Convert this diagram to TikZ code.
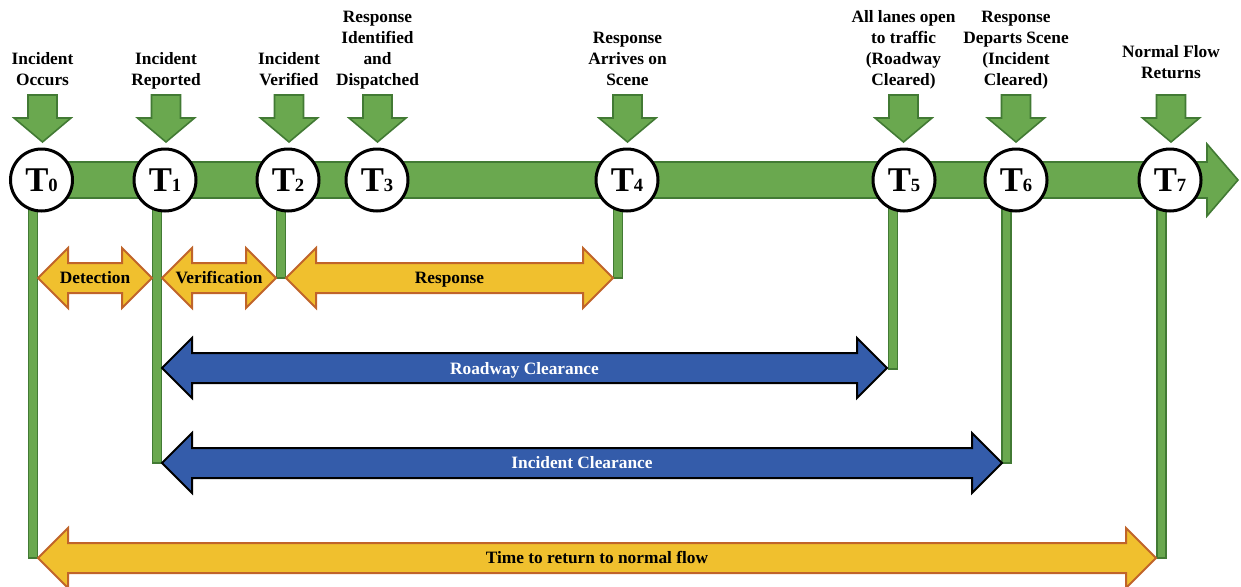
\documentclass[tikz,border=0pt]{standalone}
\usepackage{fontspec}
\setmainfont{Liberation Serif}

\definecolor{flowgreen}{RGB}{106,168,79}
\definecolor{flowgreendk}{RGB}{66,122,52}
\definecolor{phasegold}{RGB}{240,192,46}
\definecolor{phaseedge}{RGB}{192,100,42}
\definecolor{clearblue}{RGB}{52,92,170}

% block arrow with two heads: style, left tip, right tip, y
\newcommand{\dblarrow}[4]{%
  \filldraw[#1] (#2,#4) -- (#2+30,#4-30) -- (#2+30,#4-15) -- (#3-30,#4-15)
    -- (#3-30,#4-30) -- (#3,#4) -- (#3-30,#4+30) -- (#3-30,#4+15)
    -- (#2+30,#4+15) -- (#2+30,#4+30) -- cycle;}
% green marker arrow above a time point
\newcommand{\markarrow}[1]{%
  \filldraw[markarr] (#1-14.5,95) -- (#1+14.5,95) -- (#1+14.5,118) -- (#1+28.5,118)
    -- (#1,142) -- (#1-28.5,118) -- (#1-14.5,118) -- cycle;}
\newcommand{\tlab}[1]{{\fontsize{26}{26}\selectfont T}{\fontsize{14}{14}\selectfont #1}}

\begin{document}
\begin{tikzpicture}[x=0.75pt, y=-0.75pt,
  font=\fontsize{13}{15.75}\selectfont\bfseries,
  tcirc/.style={circle, draw=black, line width=2.25pt, fill=white,
    minimum size=46.5pt, inner sep=0pt},
  evlabel/.style={anchor=south, align=center, inner sep=0pt, text depth=0pt},
  phlabel/.style={inner sep=0pt, text height=8.6pt, text depth=0pt},
  phase/.style={fill=phasegold, draw=phaseedge, line width=1.5pt},
  clear/.style={fill=clearblue, draw=black, line width=1.5pt},
  markarr/.style={fill=flowgreen, draw=flowgreendk, line width=1.2pt},
  tbar/.style={fill=flowgreen, draw=flowgreendk, line width=1pt}]

  \useasboundingbox (0,0) rectangle (1241,586);

  % --- time line ---
  \filldraw[markarr] (41,162) -- (1207,162) -- (1207,144) -- (1238,180)
    -- (1207,216) -- (1207,198) -- (41,198) -- cycle;

  % --- drop lines from the time points ---
  \filldraw[tbar] (28.5,205) rectangle (37.5,558);
  \filldraw[tbar] (152.5,205) rectangle (161.5,463);
  \filldraw[tbar] (276.5,205) rectangle (285.5,278);
  \filldraw[tbar] (613.5,205) rectangle (622.5,278);
  \filldraw[tbar] (888.5,205) rectangle (897.5,369);
  \filldraw[tbar] (1002,205) rectangle (1011,463);
  \filldraw[tbar] (1157,205) rectangle (1166,558);

  % --- time points ---
  \node[tcirc] (T0) at (41.5,180) {\tlab{0}};
  \node[tcirc] (T1) at (165,180) {\tlab{1}};
  \node[tcirc] (T2) at (288,180) {\tlab{2}};
  \node[tcirc] (T3) at (377,180) {\tlab{3}};
  \node[tcirc] (T4) at (627,180) {\tlab{4}};
  \node[tcirc] (T5) at (904,180) {\tlab{5}};
  \node[tcirc] (T6) at (1016,180) {\tlab{6}};
  \node[tcirc] (T7) at (1170,180) {\tlab{7}};

  % --- events ---
  \markarrow{42.5}  \markarrow{166}  \markarrow{289}  \markarrow{377.5}
  \markarrow{627.5} \markarrow{903.5} \markarrow{1016} \markarrow{1171}
  \node[evlabel] (occurs) at (42.5,86) {Incident\\Occurs};
  \node[evlabel] (reported) at (166,86) {Incident\\Reported};
  \node[evlabel] (verified) at (289,86) {Incident\\Verified};
  \node[evlabel] (dispatched) at (377.5,86) {Response\\Identified\\and\\Dispatched};
  \node[evlabel] (arrives) at (627.5,86) {Response\\Arrives on\\Scene};
  \node[evlabel] (lanesopen) at (903.5,86) {All lanes open\\to traffic\\(Roadway\\Cleared)};
  \node[evlabel] (departs) at (1016,86) {Response\\Departs Scene\\(Incident\\Cleared)};
  \node[evlabel] (normal) at (1171,79) {Normal Flow\\Returns};

  % --- phases ---
  \dblarrow{phase}{38}{152}{278}
  \dblarrow{phase}{162}{276}{278}
  \dblarrow{phase}{286}{613}{278}
  \node[phlabel] (detection) at (95,278) {Detection};
  \node[phlabel] (verification) at (219,278) {Verification};
  \node[phlabel] (response) at (449.5,278) {Response};

  \dblarrow{clear}{162}{887}{368}
  \dblarrow{clear}{162}{1002}{463}
  \node[phlabel, white] (roadway) at (524.5,369) {Roadway Clearance};
  \node[phlabel, white] (incident) at (582,463) {Incident Clearance};

  \dblarrow{phase}{38}{1156}{558}
  \node[phlabel] (normalflow) at (597,558) {Time to return to normal flow};
\end{tikzpicture}
\end{document}
